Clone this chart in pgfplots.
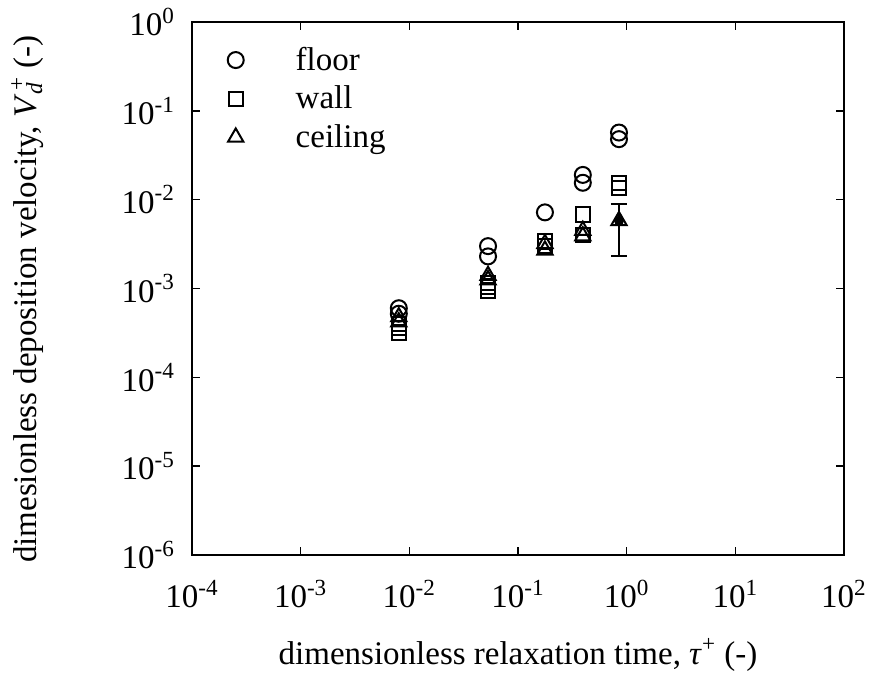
\documentclass[border=0pt]{standalone}
\usepackage{pgfplots}
\pgfplotsset{compat=1.18}
\usepackage{fontspec}
\setmainfont{Liberation Serif}
\begin{document}
\begin{tikzpicture}
\begin{axis}[
  scale only axis, width=326pt, height=266.5pt,
  xmode=log, ymode=log,
  xmin=1e-4, xmax=1e2, ymin=1e-6, ymax=1,
  xtick={1e-4,1e-3,1e-2,1e-1,1,1e1,1e2},
  xticklabels={10\textsuperscript{-4},10\textsuperscript{-3},10\textsuperscript{-2},10\textsuperscript{-1},10\textsuperscript{0},10\textsuperscript{1},10\textsuperscript{2}},
  ytick={1e-6,1e-5,1e-4,1e-3,1e-2,1e-1,1},
  yticklabels={10\textsuperscript{-6},10\textsuperscript{-5},10\textsuperscript{-4},10\textsuperscript{-3},10\textsuperscript{-2},10\textsuperscript{-1},10\textsuperscript{0}},
  xminorticks=false, yminorticks=false,
  tick align=inside, major tick length=4pt,
  axis line style={line width=1pt}, tick style={line width=0.8pt, black},
  ticklabel style={font=\fontsize{16.5}{19}\selectfont},
  xticklabel style={yshift=-9pt},
  yticklabel style={xshift=-5pt},
  label style={font=\fontsize{16.5}{19}\selectfont},
  xlabel={dimensionless relaxation time, \textit{τ}\textsuperscript{+} (-)},
  xlabel style={at={(axis description cs:0.5,-0.188)}, anchor=center},
  ylabel={dimesionless deposition velocity, \textit{V}\rlap{\textsubscript{\textit{d}}}\textsuperscript{\,+} (-)},
  ylabel style={at={(axis description cs:-0.252,0.48)}, anchor=center},
  legend style={draw=none, fill=none, at={(0.045,0.969)}, anchor=north west,
    font=\fontsize{16.5}{19}\selectfont, row sep=2.3pt},
  legend cell align=left,
  legend image code/.code={\draw[#1] plot coordinates {(0.3cm,0cm)};},
  every axis plot/.append style={only marks, black, line width=1pt},
]
\addplot[mark=o, mark size=4pt] coordinates {
 (0.008,6.0e-4) (0.008,5.2e-4)
 (0.053,3.0e-3) (0.053,2.3e-3)
 (0.177,7.2e-3)
 (0.395,0.019) (0.395,0.0155)
 (0.85,0.057) (0.85,0.048)};
\addlegendentry{\hspace{24pt}floor}
\addplot[mark=square, mark size=3.6pt] coordinates {
 (0.008,4.0e-4) (0.008,3.6e-4) (0.008,3.2e-4)
 (0.053,1.15e-3) (0.053,1.05e-3) (0.053,0.95e-3)
 (0.177,3.4e-3) (0.177,3.0e-3)
 (0.395,6.8e-3) (0.395,4.0e-3)
 (0.85,0.0155) (0.85,0.0135)};
\addlegendentry{\hspace{24pt}wall}
\addplot[mark=triangle, mark size=4.4pt] coordinates {
 (0.008,4.8e-4) (0.008,4.2e-4)
 (0.053,1.4e-3) (0.053,1.25e-3)
 (0.177,3.2e-3) (0.177,2.7e-3)
 (0.395,4.5e-3) (0.395,3.9e-3)
 (0.85,5.8e-3)};
\addlegendentry{\hspace{24pt}ceiling}
\addplot[forget plot, mark=none, draw=none,
  error bars/.cd, y dir=both, y explicit, error bar style={line width=1pt},
  error mark options={rotate=90, mark size=4pt, line width=1pt}]
  coordinates {(0.85,5.8e-3) +- (0,3.2e-3) -= (0,3.5e-3)};
\end{axis}
\pgfresetboundingbox
\useasboundingbox (-96pt,-61pt) rectangle ++(434.5pt,338.5pt);
\end{tikzpicture}
\end{document}
